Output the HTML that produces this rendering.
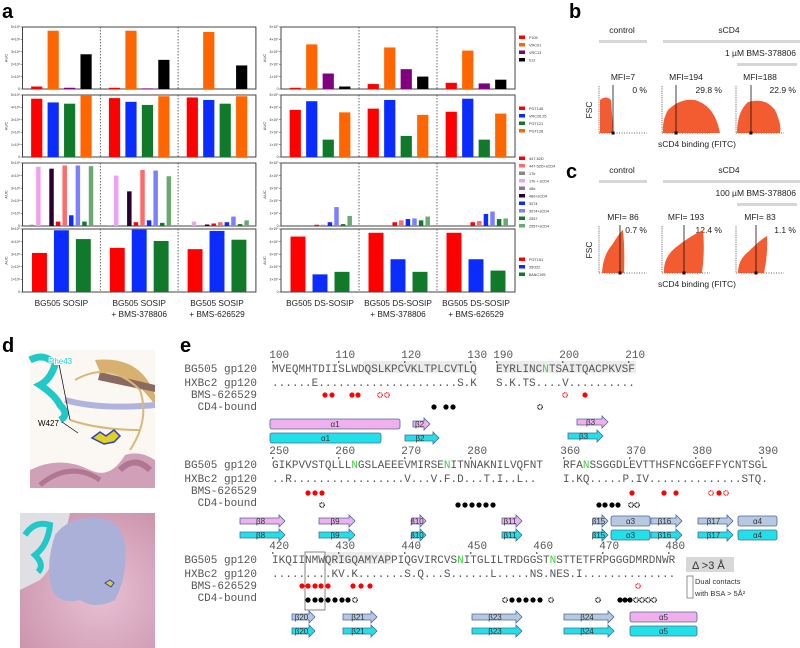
<!DOCTYPE html>
<html><head><meta charset="utf-8"><style>
html,body{margin:0;padding:0;background:#fff;}
svg{display:block;font-family:"Liberation Sans",sans-serif;}
.mono{font-family:"Liberation Mono",monospace;font-size:11px;fill:#555;}
</style></head><body>
<svg id="fig" width="800" height="648" viewBox="0 0 800 648" xmlns="http://www.w3.org/2000/svg">
<text x="2" y="18" font-size="20" font-weight="bold">a</text>
<text x="569" y="18" font-size="20" font-weight="bold">b</text>
<text x="566" y="178" font-size="20" font-weight="bold">c</text>
<text x="2" y="352" font-size="20" font-weight="bold">d</text>
<text x="180" y="352" font-size="20" font-weight="bold">e</text>
<g id="charts"></g>
<g id="flow"></g>

<!-- panel d -->
<g>
<rect x="30" y="350" width="125" height="138" fill="#fbf8f4"/>
<path d="M95 360 Q140 355 155 395 L155 405 Q130 370 100 372 Z" fill="#d8b070"/>
<path d="M100 372 L155 385 L155 392 L98 380 Z" fill="#8a6a60"/>
<path d="M65 400 Q100 410 155 405" stroke="#b0b4dc" stroke-width="6" fill="none"/>
<path d="M75 380 Q110 360 140 390 Q150 420 130 450" stroke="#d8b878" stroke-width="2" fill="none"/>
<path d="M70 420 Q100 430 140 430" stroke="#d8b878" stroke-width="2" fill="none"/>
<path d="M30 470 Q60 455 90 470 Q110 480 125 455 Q140 450 155 460 L155 488 L30 488 Z" fill="#d0a0b8"/>
<path d="M40 485 Q70 460 100 480" stroke="#b07890" stroke-width="5" fill="none"/>
<path d="M120 470 Q135 455 150 470" stroke="#b07890" stroke-width="6" fill="none"/>
<path d="M30 360 Q45 352 55 365 Q50 380 40 385 Q55 395 60 405 Q70 415 60 420" stroke="#20c8c8" stroke-width="7" fill="none"/>
<path d="M92 438 l8 -6 l6 4 l8 -6 l6 6 l-6 6 l-10 2 z" fill="#e0d020" stroke="#3040c0" stroke-width="1.5"/>
<line x1="59" y1="364" x2="70" y2="420" stroke="#000" stroke-width="0.7"/>
<line x1="62" y1="422" x2="78" y2="433" stroke="#000" stroke-width="0.7"/>
<text x="49" y="364" font-size="8" fill="#20c8d8" stroke="#fff" stroke-width="2" paint-order="stroke">Phe43</text>
<text x="38" y="426" font-size="8" fill="#000">W427</text>
</g>
<g>
<defs><radialGradient id="pk" cx="0.6" cy="0.6" r="0.8"><stop offset="0" stop-color="#e8c0d4"/><stop offset="1" stop-color="#c890a8"/></radialGradient></defs>
<rect x="20" y="513" width="135" height="135" fill="url(#pk)"/>
<path d="M20 513 L70 513 Q60 560 40 580 L20 590 Z" fill="#e0dfe4"/>
<path d="M55 535 Q70 515 100 518 Q120 520 125 545 Q128 575 115 600 Q95 610 80 600 Q60 605 52 590 Q45 565 55 535 Z" fill="#aab0d8"/>
<path d="M25 535 Q35 520 50 525 Q48 545 35 555 Q45 565 38 572" stroke="#20c8c8" stroke-width="6" fill="none"/>
<path d="M105 583 l5 -3 l4 3 l-3 4 z" fill="#e0d020" stroke="#3040c0" stroke-width="1"/>
</g>

<!-- panel e -->
<g id="seq">
<rect x="363" y="361" width="113" height="12" fill="#ececec"/>
<rect x="496" y="361" width="140" height="12" fill="#ececec"/>
<rect x="325" y="552" width="66" height="12" fill="#ececec"/>
<rect x="686" y="557" width="48" height="15" fill="#d8d8d8"/>
<text x="692" y="569" font-size="11" fill="#333">Δ &gt;3 Å</text>
<rect x="687" y="576" width="6" height="22" fill="none" stroke="#666" stroke-width="0.7"/>
<text x="695" y="584" font-size="7.5" fill="#333">Dual contacts</text>
<text x="695" y="596" font-size="7.5" fill="#333">with BSA &gt; 5Å²</text>
<rect x="305" y="552" width="20" height="58" fill="none" stroke="#666" stroke-width="0.8"/>
</g>
</svg>
<script>
// ---------- Panel a data ----------
const groupsLeft = ["BG505 SOSIP", "BG505 SOSIP|+ BMS-378806", "BG505 SOSIP|+ BMS-626529"];
const groupsRight = ["BG505 DS-SOSIP", "BG505 DS-SOSIP|+ BMS-378806", "BG505 DS-SOSIP|+ BMS-626529"];
const p1Names = ["F105","VRC01","VRC13","b12"];
const p1Colors = ["#ff0000","#ff6600","#800080","#000000"];
const p1Left = [[0.2,4.7,0.1,2.8],[0.1,4.7,0.05,2.35],[0,4.6,0,1.9]];
const p1Right = [[0.1,3.6,1.25,0.2],[0.4,3.35,1.6,1.0],[0.5,3.1,0.45,0.75]];
const p2Names = ["PGT145","VRC26.25","PGT121","PGT128"];
const p2Colors = ["#ff0000","#0a2cff","#117a2a","#ff6600"];
const p2Left = [[4.7,4.4,4.3,5.0],[4.75,4.45,4.2,4.9],[4.8,4.6,4.3,4.9]];
const p2Right = [[3.8,4.5,1.4,3.6],[3.9,4.6,1.7,3.4],[3.65,4.7,1.4,3.5]];
const p3Names = ["447-52D","447-52D+sCD4","17b","17b + sCD4","48d","48d+sCD4","3074","3074+sCD4","2557","2557+sCD4"];
const p3LegendColors = ["#ff0000","#ff6b6b","#888888","#f0a0f0","#9a6a9a","#2a0030","#0a2cff","#7a80ff","#117a2a","#6aaa70"];
const p3Order = [2,3,4,5,0,1,6,7,8,9];
const p3Left = [[0.1,4.7,0,4.55,0.35,4.8,0.85,4.8,0.35,4.75],[0.05,4.0,0,2.75,0.3,4.45,0.45,4.4,0.25,3.95],[0,0.35,0,0.12,0.2,0.3,0.3,0.75,0.15,0.45]];
const p3Right = [[0,0,0,0,0.1,0.1,0.3,1.5,0.15,0.8],[0,0,0,0,0.3,0.45,0.55,0.6,0.45,0.75],[0,0,0,0,0.3,0.4,0.95,1.15,0.55,0.6]];
const p4Names = ["PGT151","35O22","8ANC195"];
const p4Colors = ["#ff0000","#0a2cff","#117a2a"];
const p4Left = [[3.1,4.9,4.2],[3.5,4.95,4.05],[3.4,4.85,4.15]];
const p4Right = [[4.4,1.4,1.6],[4.7,2.6,1.6],[4.7,2.6,1.7]];
const yTicks = ["0","1×10⁵","2×10⁵","3×10⁵","4×10⁵","5×10⁵"];

const NS="http://www.w3.org/2000/svg";
const charts=document.getElementById('charts');
function mk(tag,attrs,parent){const e=document.createElementNS(NS,tag);for(const k in attrs)e.setAttribute(k,attrs[k]);(parent||charts).appendChild(e);return e;}

const panelsY=[[27,89],[95,157],[163,226],[229,292]];
const panelDefs=[
 {L:p1Left,R:p1Right,colors:p1Colors,order:[0,1,2,3],names:p1Names,leg:38,legStep:7.5},
 {L:p2Left,R:p2Right,colors:p2Colors,order:[0,1,2,3],names:p2Names,leg:109,legStep:7.5},
 {L:p3Left,R:p3Right,colors:p3LegendColors,order:p3Order,names:p3Names,leg:159,legStep:7.5},
 {L:p4Left,R:p4Right,colors:p4Colors,order:[0,1,2],names:p4Names,leg:260,legStep:7.5}
];
function yScale(v,top,bot){return bot-(Math.min(v,5)/5)*(bot-top);}
function drawBlock(x0,gw,data,def,top,bot,pi,side){
  const x1=x0+gw*3;
  const g=mk('g',{});
  
  
  mk('rect',{x:x0,y:top,width:x1-x0,height:bot-top,fill:'none',stroke:'#444','stroke-width':1},g);
  yTicks.forEach((t,i)=>{const y=yScale(i,top,bot);
    mk('line',{x1:x0-2,x2:x0,y1:y,y2:y,stroke:'#444','stroke-width':0.5},g);
    const tx=mk('text',{x:x0-2.5,y:y+1.2,'font-size':3.4,'text-anchor':'end',fill:'#333'},g);tx.textContent=t;});
  const al=mk('text',{x:0,y:0,'font-size':4,fill:'#333','text-anchor':'middle',transform:`translate(${x0-15},${(top+bot)/2}) rotate(-90)`},g);al.textContent='AUC';
  for(let k=1;k<3;k++)mk('line',{x1:x0+gw*k,x2:x0+gw*k,y1:top,y2:bot,stroke:'#444','stroke-width':0.8,'stroke-dasharray':'1.5,1.5'},g);
  data.forEach((vals,gi)=>{
    const n=vals.length,pad=6,step=(gw-2*pad)/n,w=step*0.68;
    vals.forEach((v,bi)=>{
      const y=yScale(v,top,bot);
      const r=mk('rect',{x:x0+gi*gw+pad+bi*step+(step-w)/2,y:y,width:w,height:Math.max(0,bot-y),fill:def.colors[def.order[bi]]},g);
      
      
    });
  });
}
panelDefs.forEach((def,pi)=>{
  const [top,bot]=panelsY[pi];
  drawBlock(22.5,77.8,def.L,def,top,bot,pi,'left');
  drawBlock(281,78,def.R,def,top,bot,pi,'right');
  def.names.forEach((nm,i)=>{
    const y=def.leg+i*def.legStep;
    const sw=mk('rect',{x:519,y:y-2.5,width:6,height:3.5,fill:def.colors[i]});
    
    
    const t=mk('text',{x:529,y:y+1,'font-size':3.8,fill:'#333'});t.textContent=nm;
    
    
  });
});
function groupLabels(x0,gw,labels){
  labels.forEach((lb,i)=>{lb.split('|').forEach((ln,j)=>{
    const t=mk('text',{x:x0+gw*i+gw/2,y:306+j*11,'font-size':8.3,'text-anchor':'middle',fill:'#222'});t.textContent=ln;
    
    });});
}
groupLabels(22.5,77.8,groupsLeft);groupLabels(281,78,groupsRight);

// ---------- Panels b,c (flow) ----------
const flow=document.getElementById('flow');
function fx(tag,attrs){return mk(tag,attrs,flow);}
function txt(x,y,s,size,anchor,extra){const t=fx('text',Object.assign({x:x,y:y,'font-size':size,'text-anchor':anchor||'start',fill:'#222'},extra||{}));t.textContent=s;return t;}
function flowPanel(oy,conc,mfis,pcts,clouds,gates){
  txt(622,oy+33,'control',8.5,'middle');txt(729,oy+33,'sCD4',8.5,'middle');
  fx('rect',{x:599,y:oy+40,width:48,height:3,fill:'#d6d6d6'});
  fx('rect',{x:663,y:oy+40,width:137,height:3,fill:'#d6d6d6'});
  txt(796,oy+56,conc,8.5,'end');
  fx('rect',{x:737,y:oy+63,width:60,height:3,fill:'#d6d6d6'});
  const px=[599,662,736];
  for(let i=0;i<3;i++){
    txt(px[i]+24,oy+80,mfis[i],8.5,'middle');
    txt(px[i]+(i==0?48:60),oy+93,pcts[i],8.5,'end');
    const b=oy+133;
    fx('line',{x1:px[i],y1:oy+86,x2:px[i],y2:b,stroke:'#333','stroke-width':0.8,'stroke-dasharray':'0.8,1'});
    fx('line',{x1:px[i],y1:b,x2:px[i]+48,y2:b,stroke:'#333','stroke-width':0.8,'stroke-dasharray':'1,1.5'});
    const c=fx('path',{d:clouds[i],fill:'#f24a1a',opacity:0.9});
    
    
    fx('line',{x1:gates[i],y1:oy+85,x2:gates[i],y2:b,stroke:'#111','stroke-width':0.8});
    fx('rect',{x:gates[i]-1.5,y:b-1.5,width:3,height:3,fill:'#000'});
  }
  txt(592,oy+110,'FSC',8.5,'middle',{transform:`rotate(-90 592 ${oy+110})`});
  txt(697,oy+147,'sCD4 binding (FITC)',8.5,'middle');
}
const cloudsB=[
 "M600 133 L600 100 Q606 95 611 100 L613 128 L612 133 Z",
 "M663 133 Q662 120 668 110 Q680 98 695 100 Q712 105 718 125 L720 133 Z",
 "M737 133 Q737 112 748 102 Q765 97 775 110 Q782 125 780 133 Z"];
const cloudsC=[
 "M602 273 Q603 255 612 245 Q620 232 623 230 Q625 250 624 273 Z",
 "M664 273 Q663 258 675 248 Q690 236 703 230 Q705 250 702 273 Z",
 "M738 273 Q738 260 748 252 Q760 240 767 236 Q768 255 764 273 Z"];
flowPanel(0,'1 µM BMS-378806',['MFI=7','MFI=194','MFI=188'],['0 %','29.8 %','22.9 %'],cloudsB,[613,676,751]);
flowPanel(140,'100 µM BMS-378806',['MFI= 86','MFI= 193','MFI= 83'],['0.7 %','12.4 %','1.1 %'],cloudsC,[620,684,756]);

// ---------- Panel e ----------
const seqG=document.getElementById('seq');
function sx(tag,attrs){return mk(tag,attrs,seqG);}
const CW=6.6;
function seqText(x,y,s,greens){
  const t=sx('text',{x:x,y:y,class:'mono'});
  for(let i=0;i<s.length;i++){const sp=document.createElementNS(NS,'tspan');sp.textContent=s[i];
    if(greens&&greens.includes(i))sp.setAttribute('fill','#40d040');t.appendChild(sp);}
  
  
}
function nums(x,startRes,y,list){list.forEach(r=>{const cx=x+(r-startRes)*CW+CW/2-3;
  const t=sx('text',{x:cx-3,y:y,class:'mono'});t.textContent=r;
  sx('rect',{x:cx,y:y+3,width:1,height:2,fill:'#333'});});}
function rowLabels(y){["BG505 gp120","HXBc2 gp120","BMS-626529","CD4-bound"].forEach((s,i)=>{
  const t=sx('text',{x:257,y:y+[0,14,26,38][i],class:'mono','text-anchor':'end'});t.textContent=s;
  
  });}
rowLabels(372);
nums(272,100,358,[100,110,120,130]);nums(496,190,358,[190,200,210]);
seqText(272,372,"MVEQMHTDIISLWDQSLKPCVKLTPLCVTLQ",[]);
seqText(496,372,"EYRLINCNTSAITQACPKVSF",[7]);
seqText(272,386,"......E.....................S.K");
seqText(496,386,"S.K.TS....V..........");
rowLabels(468);
nums(272,250,454,[250,260,270,280]);nums(563,360,454,[360,370,380,390]);
seqText(272,468,"GIKPVVSTQLLLNGSLAEEEVMIRSENITNNAKNILVQFNT",[12,26]);
seqText(563,468,"RFANSSGGDLEVTTHSFNCGGEFFYCNTSGL",[3]);
seqText(272,482,"..R.................V...V.F.D...T.I..L..");
seqText(563,482,"I.KQ.....P.IV..............STQ.");
rowLabels(563);
nums(272,420,549,[420,430,440,450,460,470,480]);
seqText(272,563,"IKQIINMWQRIGQAMYAPPIQGVIRCVSNITGLILTRDGGSTNSTTETFRPGGGDMRDNWR",[28,42]);
seqText(272,577,".........KV.K.......S.Q...S......L.....NS.NES.I..............");
function dot(x,y,col,open){
  const c=sx('circle',{cx:x,cy:y,r:2.3,fill:open?'#fff':col,stroke:col,'stroke-width':open?1.2:0.6,'stroke-dasharray':open?'1,0.6':'none'});
  
  
}
[[325,0],[332,0],[352,0],[358,0],[380,1],[387,1],[565,1],[585,0]].forEach(d=>dot(d[0],395,'#f00',d[1]));
[[434,0],[446,0],[453,0],[540,1]].forEach(d=>dot(d[0],407,'#000',d[1]));
[[308,0],[315,0],[322,0],[632,0],[664,0],[676,0],[711,1],[719,0],[726,1]].forEach(d=>dot(d[0],493,'#f00',d[1]));
[[322,1],[458,0],[465,0],[472,0],[479,0],[486,0],[493,0],[599,0],[605,0],[612,0],[618,0],[631,1],[637,1]].forEach(d=>dot(d[0],505,'#000',d[1]));
[[302,0],[308,0],[315,0],[321,0],[328,0],[353,0],[361,0],[370,0],[638,1]].forEach(d=>dot(d[0],586,'#f00',d[1]));
[[308,0],[315,0],[321,0],[328,0],[335,0],[342,0],[348,0],[355,1],[505,1],[512,0],[519,0],[526,0],[533,0],[540,0],[551,1],[598,1],[620,0],[625,0],[630,0],[636,1],[642,1],[648,1],[654,1]].forEach(d=>dot(d[0],600,'#000',d[1]));
function helix(x,y,w,col,lab){const r=sx('rect',{x:x,y:y,width:w,height:10,rx:2,fill:col,stroke:'#4a6a9a','stroke-width':0.8});
  
  
  const t=sx('text',{x:x+w/2,y:y+8,'font-size':8,'text-anchor':'middle',fill:'#333'});t.textContent=lab;}
function strand(x,y,w,col,lab){const h=10,hw=6;
  const p=sx('path',{d:`M${x} ${y+2} L${x+w-hw} ${y+2} L${x+w-hw} ${y-1} L${x+w} ${y+h/2} L${x+w-hw} ${y+h+1} L${x+w-hw} ${y+h-2} L${x} ${y+h-2} Z`,fill:col,stroke:'#4a6a9a','stroke-width':0.8});
  
  
  const t=sx('text',{x:x+(w-hw)/2+1,y:y+8,'font-size':8,'text-anchor':'middle',fill:'#333'});t.textContent=lab;}
const PK='#f0b0ee',CY='#22e0e8',SB='#b8c8e0';
helix(270,419,130,PK,'α1');helix(270,433,111,CY,'α1');
strand(413,419,17,PK,'β2');strand(405,433,34,CY,'β2');
strand(577,417,31,PK,'β3');strand(568,431,35,CY,'β3');
[[240,45,'β8'],[319,36,'β9'],[412,14,'β10'],[502,20,'β11']].forEach(s=>{strand(s[0],516,s[1],PK,s[2]);strand(s[0],530,s[1],CY,s[2]);});
[[593,15,'β15'],[651,31,'β16'],[698,35,'β17']].forEach(s=>{strand(s[0],516,s[1],SB,s[2]);strand(s[0],530,s[1],CY,s[2]);});
helix(611,516,39,SB,'α3');helix(611,530,39,CY,'α3');
helix(738,516,39,SB,'α4');helix(738,530,39,CY,'α4');
[[292,23,'β20'],[343,34,'β21'],[472,50,'β23'],[564,50,'β24']].forEach(s=>{strand(s[0],612,s[1],SB,s[2]);strand(s[0],626,s[1],CY,s[2]);});
helix(630,612,67,PK,'α5');helix(630,626,67,CY,'α5');
</script>
</body></html>
